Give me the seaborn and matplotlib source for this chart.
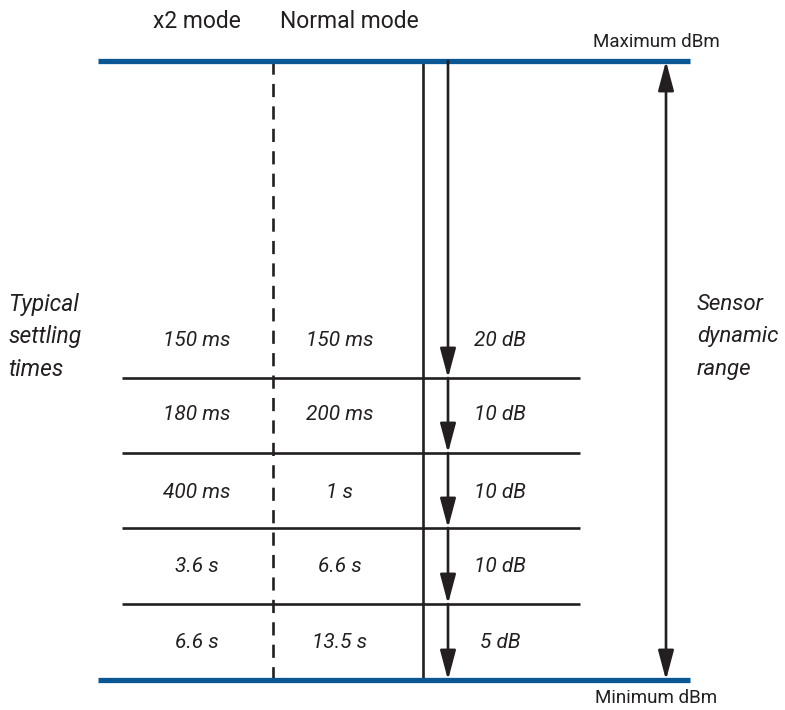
import matplotlib
matplotlib.use("Agg")
import matplotlib.pyplot as plt
from matplotlib.patches import FancyArrowPatch
from matplotlib import font_manager
import seaborn as sns

# ---- data ----
x2_times = ["150 ms", "180 ms", "400 ms", "3.6 s", "6.6 s"]
normal_times = ["150 ms", "200 ms", "1 s", "6.6 s", "13.5 s"]
db_steps = ["20 dB", "10 dB", "10 dB", "10 dB", "5 dB"]
column_titles = ["x2 mode", "Normal mode"]
range_labels = ["Maximum dBm", "Minimum dBm"]
left_label = ["Typical", "settling", "times"]
right_label = ["Sensor", "dynamic", "range"]

sns.set_theme(style="white")
names = {f.name for f in font_manager.fontManager.ttflist}
fam = [f for f in ["Liberation Sans Narrow", "Roboto", "DejaVu Sans"] if f in names] + ["DejaVu Sans"]
plt.rcParams['font.family'] = fam

fig = plt.figure(figsize=(7.85, 7.10), dpi=100)
ax = fig.add_axes([0, 0, 1, 1])
ax.set_xlim(0, 785)
ax.set_ylim(710, 0)
ax.axis("off")

# layout (pixels)
top, bottom = 61, 680
bounds = [top, 378, 453, 528, 604, bottom]
blue = "#0b5794"
dark = "#231f20"

# blue range lines
ax.hlines([top, bottom], 98, 690, color=blue, lw=3.8, zorder=3)
# separators
ax.hlines(bounds[1:-1], 122, 580, color=dark, lw=1.9)
# dashed vertical
ax.vlines(273, top, bottom, color=dark, lw=1.9, linestyles=(0, (5, 3.5)))
# solid vertical
ax.vlines(423, top, bottom, color=dark, lw=1.9)

def arrow(x, y0, y1, style):
    p = FancyArrowPatch((x, y0), (x, y1), arrowstyle=style, mutation_scale=10,
                        color=dark, lw=1.9, shrinkA=0, shrinkB=0, zorder=4)
    ax.add_patch(p)

one = "-|>,head_length=1.8,head_width=0.48"
for i in range(len(db_steps)):
    arrow(448, bounds[i], bounds[i + 1], one)
arrow(666, top, bottom, "<|-|>,head_length=1.8,head_width=0.48")

# row labels
row_y = [341, 415, 492, 567, 642]
for y, a, b, c in zip(row_y, x2_times, normal_times, db_steps):
    ax.text(197, y, a, ha="center", va="center", style="italic", fontsize=15, color=dark)
    ax.text(340, y, b, ha="center", va="center", style="italic", fontsize=15, color=dark)
    ax.text(500, y, c, ha="center", va="center", style="italic", fontsize=15, color=dark)

# titles
ax.text(197, 22, column_titles[0], ha="center", va="center", fontsize=16.5, color=dark)
ax.text(349, 22, column_titles[1], ha="center", va="center", fontsize=16.5, color=dark)
ax.text(656, 42, range_labels[0], ha="center", va="center", fontsize=13.5, color=dark)
ax.text(656, 698, range_labels[1], ha="center", va="center", fontsize=13.5, color=dark)

for i, (l, r) in enumerate(zip(left_label, right_label)):
    y = 304 + i * 32.5
    ax.text(8, y, l, ha="left", va="center", style="italic", fontsize=16.5, color=dark)
    ax.text(697, y, r, ha="left", va="center", style="italic", fontsize=16, color=dark)

fig.savefig("out.png", dpi=100, facecolor="white")
